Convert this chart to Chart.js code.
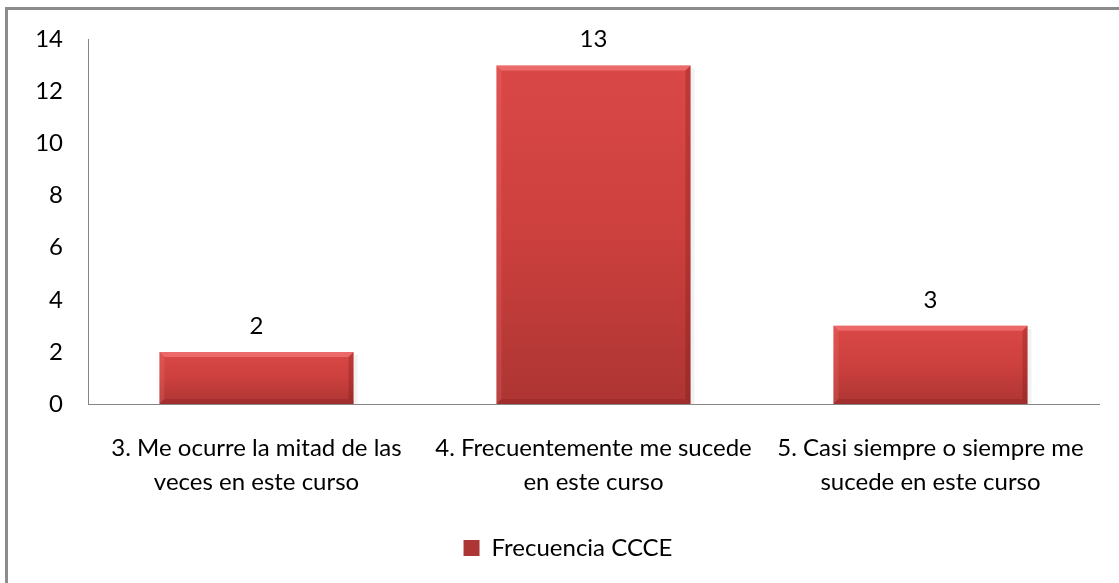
<!DOCTYPE html>
<html>
<head>
<meta charset="utf-8">
<script src="https://cdn.jsdelivr.net/npm/chart.js@4/dist/chart.umd.min.js"></script>
<style>
  html, body { margin: 0; padding: 0; background: #fff; }
  #wrap { width: 1119px; height: 583px; position: relative; }
</style>
</head>
<body>
<div id="wrap"><canvas id="myChart" width="1119" height="583"></canvas></div>
<script>
// categories (two lines each)
let categories = [
  ["3. Me ocurre la mitad de las", "veces en este curso"],
  ["4. Frecuentemente me sucede", "en este curso"],
  ["5. Casi siempre o siempre me", "sucede en este curso"]
];
let frecuencia = [2, 13, 3];
let seriesName = "Frecuencia CCCE";
let yTicks = [0, 2, 4, 6, 8, 10, 12, 14];

let fontFam = "Lato, 'Open Sans', sans-serif";
let fontSize = 24;

// bar fill: light red at the top of each bar, darker at the base
function barFill(ctx) {
  let chart = ctx.chart;
  if (ctx.type !== 'data' || !chart.chartArea || !chart.scales.y) {
    return '#c9403e';
  }
  let y = chart.scales.y;
  let top = y.getPixelForValue(ctx.parsed ? ctx.parsed.y : 0);
  let bottom = y.getPixelForValue(0);
  if (!isFinite(top) || top === bottom) return '#c9403e';
  let g = chart.ctx.createLinearGradient(0, top, 0, bottom);
  g.addColorStop(0, '#d94846');
  g.addColorStop(0.5, '#cc403e');
  g.addColorStop(1, '#ad3533');
  return g;
}

// outer frame (only the left and top edges show in the picture)
const framePlugin = {
  id: 'frame',
  beforeDraw(chart) {
    let c = chart.ctx;
    c.save();
    c.fillStyle = '#8c8c8c';
    c.fillRect(5, 7, 3, 583);
    c.fillRect(5, 7, 1119, 3);
    c.restore();
  }
};

// bevel edges on bars + value labels above them
const bevelPlugin = {
  id: 'bevel',
  afterDatasetsDraw(chart) {
    let c = chart.ctx;
    let meta = chart.getDatasetMeta(0);
    meta.data.forEach(function (bar, i) {
      let p = bar.getProps(['x', 'y', 'width', 'base'], true);
      let l = p.x - p.width / 2, r = p.x + p.width / 2;
      let t = p.y, b = p.base, e = 5;
      c.save();
      // top highlight
      c.fillStyle = 'rgba(255,140,140,0.5)';
      c.beginPath();
      c.moveTo(l, t); c.lineTo(r, t); c.lineTo(r - e, t + e); c.lineTo(l + e, t + e);
      c.closePath(); c.fill();
      // left
      c.fillStyle = 'rgba(255,140,140,0.18)';
      c.beginPath();
      c.moveTo(l, t); c.lineTo(l + e, t + e); c.lineTo(l + e, b - e); c.lineTo(l, b);
      c.closePath(); c.fill();
      // right shade
      c.fillStyle = 'rgba(90,10,10,0.22)';
      c.beginPath();
      c.moveTo(r, t); c.lineTo(r - e, t + e); c.lineTo(r - e, b - e); c.lineTo(r, b);
      c.closePath(); c.fill();
      // bottom shade
      c.fillStyle = 'rgba(90,10,10,0.15)';
      c.beginPath();
      c.moveTo(l, b); c.lineTo(l + e, b - e); c.lineTo(r - e, b - e); c.lineTo(r, b);
      c.closePath(); c.fill();
      // soft shadow on the right
      c.fillStyle = 'rgba(0,0,0,0.05)';
      c.fillRect(r, t + 3, 4, b - t - 3);
      c.restore();

      c.save();
      c.fillStyle = '#000';
      c.font = fontSize + "px " + fontFam;
      c.textAlign = 'center';
      c.textBaseline = 'middle';
      c.fillText(String(frecuencia[i]), p.x, t - 26);
      c.restore();
    });
  }
};

const ctx = document.getElementById('myChart').getContext('2d');
let myChart = new Chart(ctx, {
  type: 'bar',
  data: {
    labels: categories,
    datasets: [{
      label: seriesName,
      data: frecuencia,
      backgroundColor: barFill,
      borderWidth: 0,
      categoryPercentage: 0.576,
      barPercentage: 1.0
    }]
  },
  options: {
    responsive: false,
    animation: false,
    devicePixelRatio: 1,
    layout: { padding: { left: 37, right: 20, top: 38, bottom: 13 } },
    plugins: {
      tooltip: { enabled: false },
      legend: {
        position: 'bottom',
        labels: {
          color: '#000',
          font: { family: fontFam, size: fontSize },
          boxWidth: 16,
          boxHeight: 16,
          padding: 10
        }
      }
    },
    scales: {
      x: {
        grid: { display: false, drawTicks: false },
        border: { display: true, color: '#868686', width: 1 },
        ticks: {
          color: '#000',
          padding: 27,
          maxRotation: 0,
          autoSkip: false,
          font: { family: fontFam, size: fontSize, lineHeight: 1.42 }
        },
        afterFit(scale) { scale.height = 122; }
      },
      y: {
        min: 0,
        max: 14,
        grid: { display: false, drawTicks: false },
        border: { display: true, color: '#868686', width: 1 },
        afterBuildTicks(scale) {
          scale.ticks = yTicks.map(v => ({ value: v }));
        },
        afterFit(scale) { scale.width = 51; },
        ticks: {
          color: '#000',
          padding: 25,
          font: { family: fontFam, size: fontSize }
        }
      }
    }
  },
  plugins: [framePlugin, bevelPlugin]
});
</script>
</body>
</html>
